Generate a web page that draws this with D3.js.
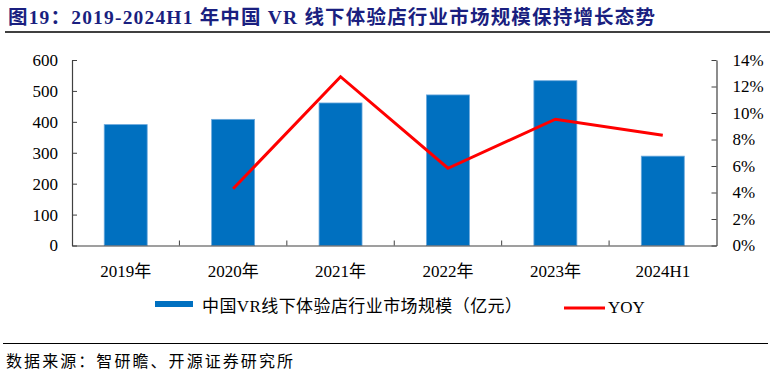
<!DOCTYPE html>
<html>
<head>
<meta charset="utf-8">
<script src="https://cdn.jsdelivr.net/npm/d3@7"></script>
<style>
  html, body { margin: 0; padding: 0; background: #fff; }
  text { font-family: "Liberation Serif", "Noto Sans CJK SC", serif; }
</style>
</head>
<body>
<svg id="chart" width="774" height="374"></svg>
<script>
  // data
  const categories = ['2019年', '2020年', '2021年', '2022年', '2023年', '2024H1'];
  const marketSize = [391, 408, 461, 487, 533, 289];          // 亿元
  const yoy = [null, 0.0428, 0.1274, 0.0583, 0.0953, 0.0832];
  const leftTicks = [0, 100, 200, 300, 400, 500, 600];
  const rightTicks = [0, 0.02, 0.04, 0.06, 0.08, 0.10, 0.12, 0.14];

  const titleText = '图19：2019-2024H1 年中国 VR 线下体验店行业市场规模保持增长态势';
  const barLabel = '中国VR线下体验店行业市场规模（亿元）';
  const lineLabel = 'YOY';
  const sourceText = '数据来源：智研瞻、开源证券研究所';

  const BAR_COLOR = '#0070c0';
  const LINE_COLOR = '#ff0000';
  const AXIS_COLOR = '#404040';

  const svg = d3.select('#chart');
  const plotLeft = 72, plotRight = 716.5, plotTop = 60, plotBottom = 245.5;

  const x = d3.scaleBand().domain(categories).range([plotLeft, plotRight])
    .paddingInner(0.6).paddingOuter(0.3);
  const yL = d3.scaleLinear().domain([0, 600]).range([plotBottom, plotTop]);
  const yR = d3.scaleLinear().domain([0, 0.14]).range([plotBottom, plotTop]);

  // title + rule
  svg.append('text')
    .attr('x', 8).attr('y', 24)
    .attr('font-size', 19.5).attr('font-weight', 'bold')
    .attr('fill', '#1a1f80')
    .attr('textLength', 647).attr('lengthAdjust', 'spacing')
    .text(titleText);
  svg.append('line')
    .attr('x1', 5).attr('x2', 770).attr('y1', 32).attr('y2', 32)
    .attr('stroke', '#000').attr('stroke-width', 1.5);

  // bars
  svg.append('g').selectAll('rect')
    .data(marketSize)
    .enter()
    .append('rect')
    .attr('x', (d, i) => x(categories[i]))
    .attr('y', d => yL(d))
    .attr('width', x.bandwidth())
    .attr('height', d => plotBottom - yL(d))
    .attr('fill', BAR_COLOR)
    .attr('stroke', '#6aa8dc')
    .attr('stroke-width', 0.8);

  // axes
  const axisL = svg.append('g').attr('transform', `translate(${plotLeft},0)`)
    .call(d3.axisLeft(yL).tickValues(leftTicks).tickSizeInner(-5).tickSizeOuter(0).tickPadding(14));
  const axisR = svg.append('g').attr('transform', `translate(${plotRight},0)`)
    .call(d3.axisRight(yR).tickValues(rightTicks).tickSizeInner(-5).tickSizeOuter(0)
      .tickPadding(16).tickFormat(d3.format('.0%')));
  const axisB = svg.append('g').attr('transform', `translate(0,${plotBottom})`)
    .call(d3.axisBottom(x).tickSize(0).tickPadding(16));

  // category boundary ticks on the x axis
  const step = x.step();
  const bounds = d3.range(categories.length + 1).map(i => plotLeft + i * step);
  axisB.selectAll('.bound')
    .data(bounds.slice(1, -1))
    .enter()
    .append('line')
    .attr('class', 'bound')
    .attr('x1', d => d).attr('x2', d => d)
    .attr('y1', 0).attr('y2', -5)
    .attr('stroke', AXIS_COLOR);

  [axisL, axisR, axisB].forEach(g => {
    g.select('.domain').attr('stroke', AXIS_COLOR).attr('stroke-width', 1.2);
    g.selectAll('.tick line').attr('stroke', AXIS_COLOR);
    g.selectAll('text')
      .attr('font-size', 17)
      .attr('fill', '#000')
      .style('font-family', '"Liberation Serif", "Noto Sans CJK SC", serif');
  });
  axisB.selectAll('.tick text').attr('dy', '0.9em');

  // yoy line
  const line = d3.line()
    .defined(d => d != null)
    .x((d, i) => x(categories[i]) + x.bandwidth() / 2)
    .y(d => yR(d));
  svg.append('path')
    .datum(yoy)
    .attr('d', line)
    .attr('fill', 'none')
    .attr('stroke', LINE_COLOR)
    .attr('stroke-width', 3)
    .attr('stroke-linejoin', 'miter');

  // legend
  const legend = svg.append('g');
  legend.append('rect')
    .attr('x', 155).attr('y', 301).attr('width', 38).attr('height', 6)
    .attr('fill', BAR_COLOR);
  legend.append('text')
    .attr('x', 202).attr('y', 312)
    .attr('font-size', 17)
    .attr('textLength', 320).attr('lengthAdjust', 'spacing')
    .text(barLabel);
  legend.append('line')
    .attr('x1', 564).attr('x2', 605).attr('y1', 308).attr('y2', 308)
    .attr('stroke', LINE_COLOR).attr('stroke-width', 3);
  legend.append('text')
    .attr('x', 608).attr('y', 313)
    .attr('font-size', 17)
    .text(lineLabel);

  // source
  svg.append('line')
    .attr('x1', 3).attr('x2', 768).attr('y1', 343.5).attr('y2', 343.5)
    .attr('stroke', '#000').attr('stroke-width', 1.2);
  svg.append('text')
    .attr('x', 6).attr('y', 367)
    .attr('font-size', 16)
    .attr('textLength', 287).attr('lengthAdjust', 'spacing')
    .text(sourceText);
</script>
</body>
</html>
